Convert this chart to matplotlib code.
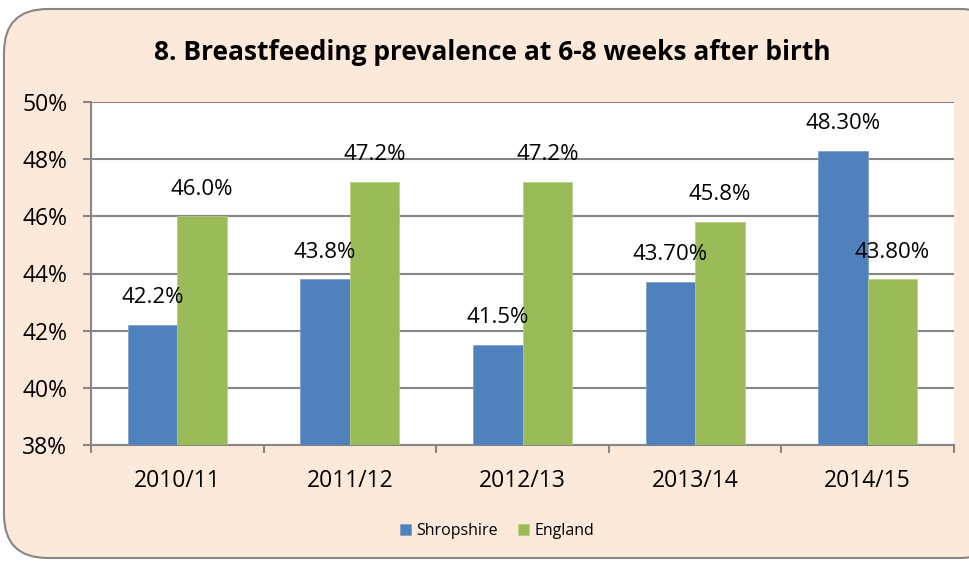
import numpy as np
import matplotlib.pyplot as plt
from matplotlib.patches import FancyBboxPatch

# données
annees = ["2010/11", "2011/12", "2012/13", "2013/14", "2014/15"]
shropshire = [42.2, 43.8, 41.5, 43.7, 48.3]
england = [46.0, 47.2, 47.2, 45.8, 43.8]
lab_shrop = ["42.2%", "43.8%", "41.5%", "43.70%", "48.30%"]
lab_eng = ["46.0%", "47.2%", "47.2%", "45.8%", "43.80%"]

bleu = "#4F81BD"
vert = "#9BBB59"
gris = "#868686"
fond = "#FDE9D9"

plt.rcParams['font.family'] = ['Open Sans', 'DejaVu Sans']

fig = plt.figure(figsize=(9.7, 5.62), dpi=100)
fig.patch.set_facecolor("white")

# cadre arrondi (le bord droit sort de l'image)
cadre = FancyBboxPatch((4 / 970, 4 / 562), 1000 / 970, 549 / 562,
                       boxstyle="round,pad=0,rounding_size=0.045",
                       transform=fig.transFigure, facecolor=fond,
                       edgecolor=gris, linewidth=1.5, mutation_aspect=970 / 562,
                       zorder=-5)
fig.patches.append(cadre)

ax = fig.add_axes([91 / 970, 117 / 562, 863 / 970, 343 / 562], zorder=2)
ax.set_facecolor("white")

x = np.arange(len(annees))
w = 0.287
b1 = ax.bar(x - w / 2, shropshire, w, color=bleu, label="Shropshire", zorder=3,
            edgecolor="#7A9CCB", linewidth=0.5)
b2 = ax.bar(x + w / 2, england, w, color=vert, label="England", zorder=3,
            edgecolor="#B5CD85", linewidth=0.5)

for i in range(len(annees)):
    ax.annotate(lab_shrop[i], (x[i] - w / 2, shropshire[i]), xytext=(0, 19.5),
                textcoords="offset points", ha="center", va="center", fontsize=16, zorder=4)
    ax.annotate(lab_eng[i], (x[i] + w / 2, england[i]), xytext=(0, 19.5),
                textcoords="offset points", ha="center", va="center", fontsize=16, zorder=4)

ax.set_ylim(38, 50)
ax.set_xlim(-0.5, len(annees) - 0.5)
ax.set_yticks(np.arange(38, 51, 2))
ax.set_yticklabels([f"{v}%" for v in range(38, 51, 2)], fontsize=16.5)
ax.yaxis.grid(True, color=gris, linewidth=1.5, zorder=0)
ax.set_axisbelow(True)

ax.set_xticks(x)
ax.set_xticklabels(annees, fontsize=16.5)
ax.tick_params(axis="x", length=0, pad=17)
ax.set_xticks(np.arange(-0.5, len(annees)), minor=True)
ax.tick_params(axis="x", which="minor", length=6, width=1.5, color=gris)
ax.tick_params(axis="y", length=6, width=1.5, color=gris, pad=11)

for s in ["top", "right"]:
    ax.spines[s].set_visible(False)
ax.spines["left"].set_color(gris)
ax.spines["left"].set_linewidth(1.5)
ax.spines["bottom"].set_color(gris)
ax.spines["bottom"].set_linewidth(1.5)

fig.text(492 / 970, 1 - 52 / 562, "8. Breastfeeding prevalence at 6-8 weeks after birth",
         ha="center", va="center", fontsize=19, fontweight="bold")

fig.legend(handles=[b1, b2], loc="center", bbox_to_anchor=(497 / 970, 1 - 531 / 562),
           ncol=2, frameon=False, fontsize=11.5, handlelength=0.7, handleheight=0.7,
           columnspacing=1.3, handletextpad=0.3)

fig.savefig("out.png", dpi=100)
